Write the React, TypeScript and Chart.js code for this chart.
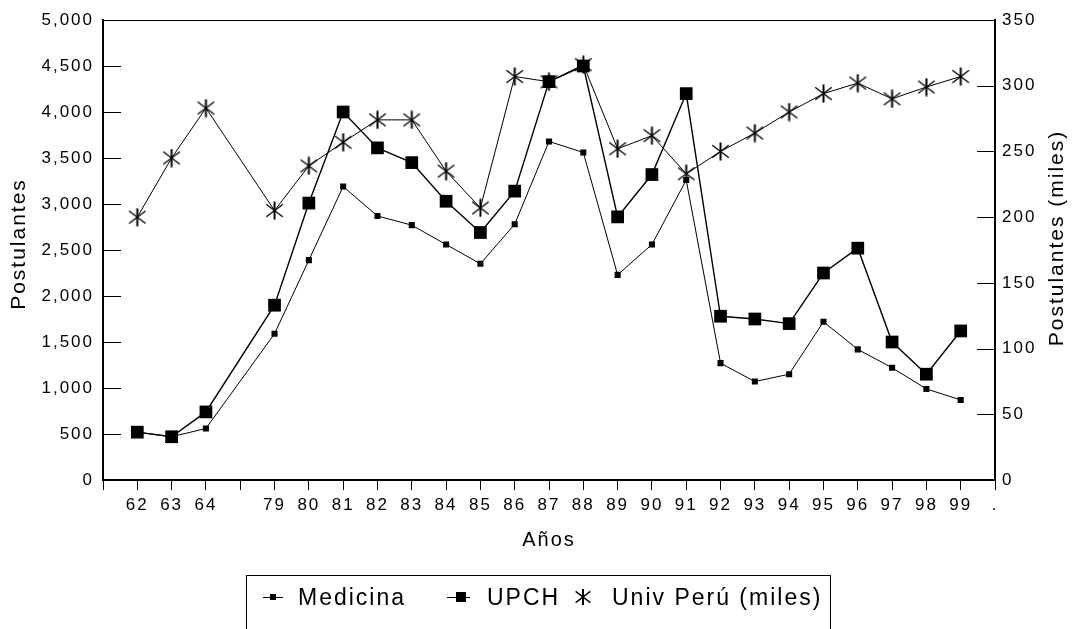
import React, { useEffect, useRef } from "react";
import { Chart, registerables } from "chart.js";

Chart.register(...registerables);

// ---------- data ----------
const categories = ["", "62", "63", "64", "", "79", "80", "81", "82", "83", "84", "85", "86", "87", "88", "89", "90", "91", "92", "93", "94", "95", "96", "97", "98", "99", "."];

const medicina = [null, 520, 470, 560, null, 1590, 2390, 3190, 2870, 2770, 2560, 2350, 2780, 3680, 3560, 2230, 2560, 3260, 1270, 1070, 1150, 1720, 1420, 1220, 990, 870, null];

const upch = [null, 520, 470, 740, null, 1900, 3010, 4000, 3610, 3450, 3030, 2690, 3140, 4330, 4500, 2860, 3320, 4200, 1780, 1750, 1700, 2250, 2520, 1500, 1150, 1620, null];

const univPeru = [null, 200, 245, 283, null, 205, 239, 257, 274, 274, 235, 207, 307, 303, 316, 252, 262, 233, 250, 264, 280, 294, 302, 290, 299, 307, null];

const seriesNames = ["Medicina", "UPCH", "Univ Perú (miles)"];
const leftAxisTitle = "Postulantes";
const rightAxisTitle = "Postulantes (miles)";
const xAxisTitle = "Años";
const leftMax = 5000;
const leftStep = 500;
const rightMax = 350;
const rightStep = 50;

const FONT = "'Liberation Sans', Arial, Helvetica, sans-serif";

function drawStar(g: CanvasRenderingContext2D, cx: number, cy: number, s: number) {
  g.save();
  g.strokeStyle = "#000";
  g.lineWidth = 2;
  g.beginPath();
  g.moveTo(cx, cy - s);
  g.lineTo(cx, cy + s);
  g.stroke();
  g.lineWidth = 1.4;
  const dx = s * 0.92;
  const dy = s * 0.7;
  g.beginPath();
  g.moveTo(cx - dx, cy - dy);
  g.lineTo(cx + dx, cy + dy);
  g.moveTo(cx + dx, cy - dy);
  g.lineTo(cx - dx, cy + dy);
  g.stroke();
  g.restore();
}

function makeStarImage(size: number) {
  const c = document.createElement("canvas");
  c.width = size;
  c.height = size;
  const g = c.getContext("2d")!;
  drawStar(g, size / 2, size / 2, size / 2 - 0.5);
  return c;
}

function drawRotatedTitle(ctx: CanvasRenderingContext2D, text: string, x: number, y: number) {
  ctx.save();
  ctx.font = `21px ${FONT}`;
  (ctx as any).letterSpacing = "2px";
  ctx.fillStyle = "#000";
  ctx.textAlign = "center";
  ctx.textBaseline = "middle";
  ctx.translate(x, y);
  ctx.rotate(-Math.PI / 2);
  ctx.fillText(text, 0, 0);
  ctx.restore();
}

const decorPlugin = {
  id: "decor",
  beforeDraw(chart: any) {
    (chart.ctx as any).letterSpacing = "2px";
  },
  afterDraw(chart: any) {
    const { ctx, chartArea: a, scales } = chart;
    ctx.save();
    (ctx as any).letterSpacing = "0px";
    ctx.strokeStyle = "#000";
    ctx.lineWidth = 1;
    // top frame line
    ctx.beginPath();
    ctx.moveTo(a.left, Math.round(a.top) + 0.5);
    ctx.lineTo(a.right, Math.round(a.top) + 0.5);
    ctx.stroke();
    // inner ticks on both value axes
    const y = scales.y;
    const y1 = scales.y1;
    y.ticks.forEach((t: any) => {
      const p = Math.round(y.getPixelForValue(t.value)) + 0.5;
      ctx.beginPath();
      ctx.moveTo(a.left, p);
      ctx.lineTo(a.left + 18, p);
      ctx.stroke();
    });
    y1.ticks.forEach((t: any) => {
      const p = Math.round(y1.getPixelForValue(t.value)) + 0.5;
      ctx.beginPath();
      ctx.moveTo(a.right - 18, p);
      ctx.lineTo(a.right, p);
      ctx.stroke();
    });
    // axis titles (both read bottom to top)
    drawRotatedTitle(ctx, leftAxisTitle, 19, 244);
    drawRotatedTitle(ctx, rightAxisTitle, 1057, 238);

    // legend box
    ctx.lineWidth = 1;
    ctx.strokeRect(246.5, 575.5, 584, 80);
    const symY = 597;
    const textY = 605;
    ctx.font = `23px ${FONT}`;
    (ctx as any).letterSpacing = "2px";
    ctx.fillStyle = "#000";
    ctx.textAlign = "left";
    ctx.textBaseline = "alphabetic";
    // item 1: Medicina
    ctx.beginPath();
    ctx.moveTo(263, symY + 0.5);
    ctx.lineTo(283, symY + 0.5);
    ctx.stroke();
    ctx.fillRect(270, symY - 3, 6, 6);
    ctx.fillText(seriesNames[0], 298, textY);
    // item 2: UPCH
    ctx.beginPath();
    ctx.moveTo(447, symY + 0.5);
    ctx.lineTo(470, symY + 0.5);
    ctx.stroke();
    ctx.fillRect(456, symY - 5, 10, 10);
    ctx.fillText(seriesNames[1], 487, textY);
    // item 3: Univ Perú
    drawStar(ctx, 583, symY, 8);
    ctx.fillText(seriesNames[2], 612, textY);
    ctx.restore();
  },
};

export default function App() {
  const ref = useRef<HTMLCanvasElement | null>(null);

  useEffect(() => {
    if (!ref.current) return;
    const star = makeStarImage(19);
    const chart = new Chart(ref.current, {
      type: "line",
      data: {
        labels: categories,
        datasets: [
          {
            label: seriesNames[0],
            data: medicina,
            yAxisID: "y",
            borderColor: "#000",
            backgroundColor: "#000",
            borderWidth: 1,
            pointStyle: "rect",
            pointRadius: 4.3,
            pointBorderWidth: 0,
            tension: 0,
            spanGaps: true,
          },
          {
            label: seriesNames[1],
            data: upch,
            yAxisID: "y",
            borderColor: "#000",
            backgroundColor: "#000",
            borderWidth: 1.4,
            pointStyle: "rect",
            pointRadius: 9,
            pointBorderWidth: 0,
            tension: 0,
            spanGaps: true,
          },
          {
            label: seriesNames[2],
            data: univPeru,
            yAxisID: "y1",
            borderColor: "#000",
            backgroundColor: "#000",
            borderWidth: 1,
            pointStyle: star as any,
            pointRadius: 9,
            tension: 0,
            spanGaps: true,
          },
        ],
      },
      options: {
        responsive: false,
        animation: false,
        events: [],
        layout: { padding: { top: 20, left: 0, right: 0, bottom: 74 } },
        plugins: {
          legend: { display: false },
          tooltip: { enabled: false },
        },
        scales: {
          x: {
            type: "category",
            offset: false,
            grid: {
              drawOnChartArea: false,
              drawTicks: true,
              tickLength: 10,
              color: "#000",
              lineWidth: 1,
            },
            border: { color: "#000", width: 2 },
            ticks: {
              color: "#000",
              font: { family: FONT, size: 17 },
              autoSkip: false,
              maxRotation: 0,
              minRotation: 0,
              padding: 5,
            },
            title: {
              display: true,
              text: xAxisTitle,
              color: "#000",
              font: { family: FONT, size: 20 },
              padding: { top: 0, bottom: 3 },
            },
            afterFit: (s: any) => {
              s.height = 75;
            },
          },
          y: {
            type: "linear",
            position: "left",
            min: 0,
            max: leftMax,
            grid: { drawOnChartArea: false, drawTicks: false },
            border: { color: "#000", width: 2 },
            ticks: {
              stepSize: leftStep,
              color: "#000",
              font: { family: FONT, size: 17 },
              padding: 9,
              callback: (v: any) => Number(v).toLocaleString("en-US"),
            },
            afterFit: (s: any) => {
              s.width = 103;
            },
          },
          y1: {
            type: "linear",
            position: "right",
            min: 0,
            max: rightMax,
            grid: { drawOnChartArea: false, drawTicks: false },
            border: { color: "#000", width: 2 },
            ticks: {
              stepSize: rightStep,
              color: "#000",
              font: { family: FONT, size: 17 },
              padding: 7,
            },
            afterFit: (s: any) => {
              s.width = 77;
            },
          },
        },
      },
      plugins: [decorPlugin],
    });
    return () => chart.destroy();
  }, []);

  return (
    <div style={{ position: "fixed", left: 0, top: 0, width: 1072, height: 629, background: "#fff" }}>
      <canvas ref={ref} width={1072} height={629} style={{ display: "block", width: 1072, height: 629 }} />
    </div>
  );
}
